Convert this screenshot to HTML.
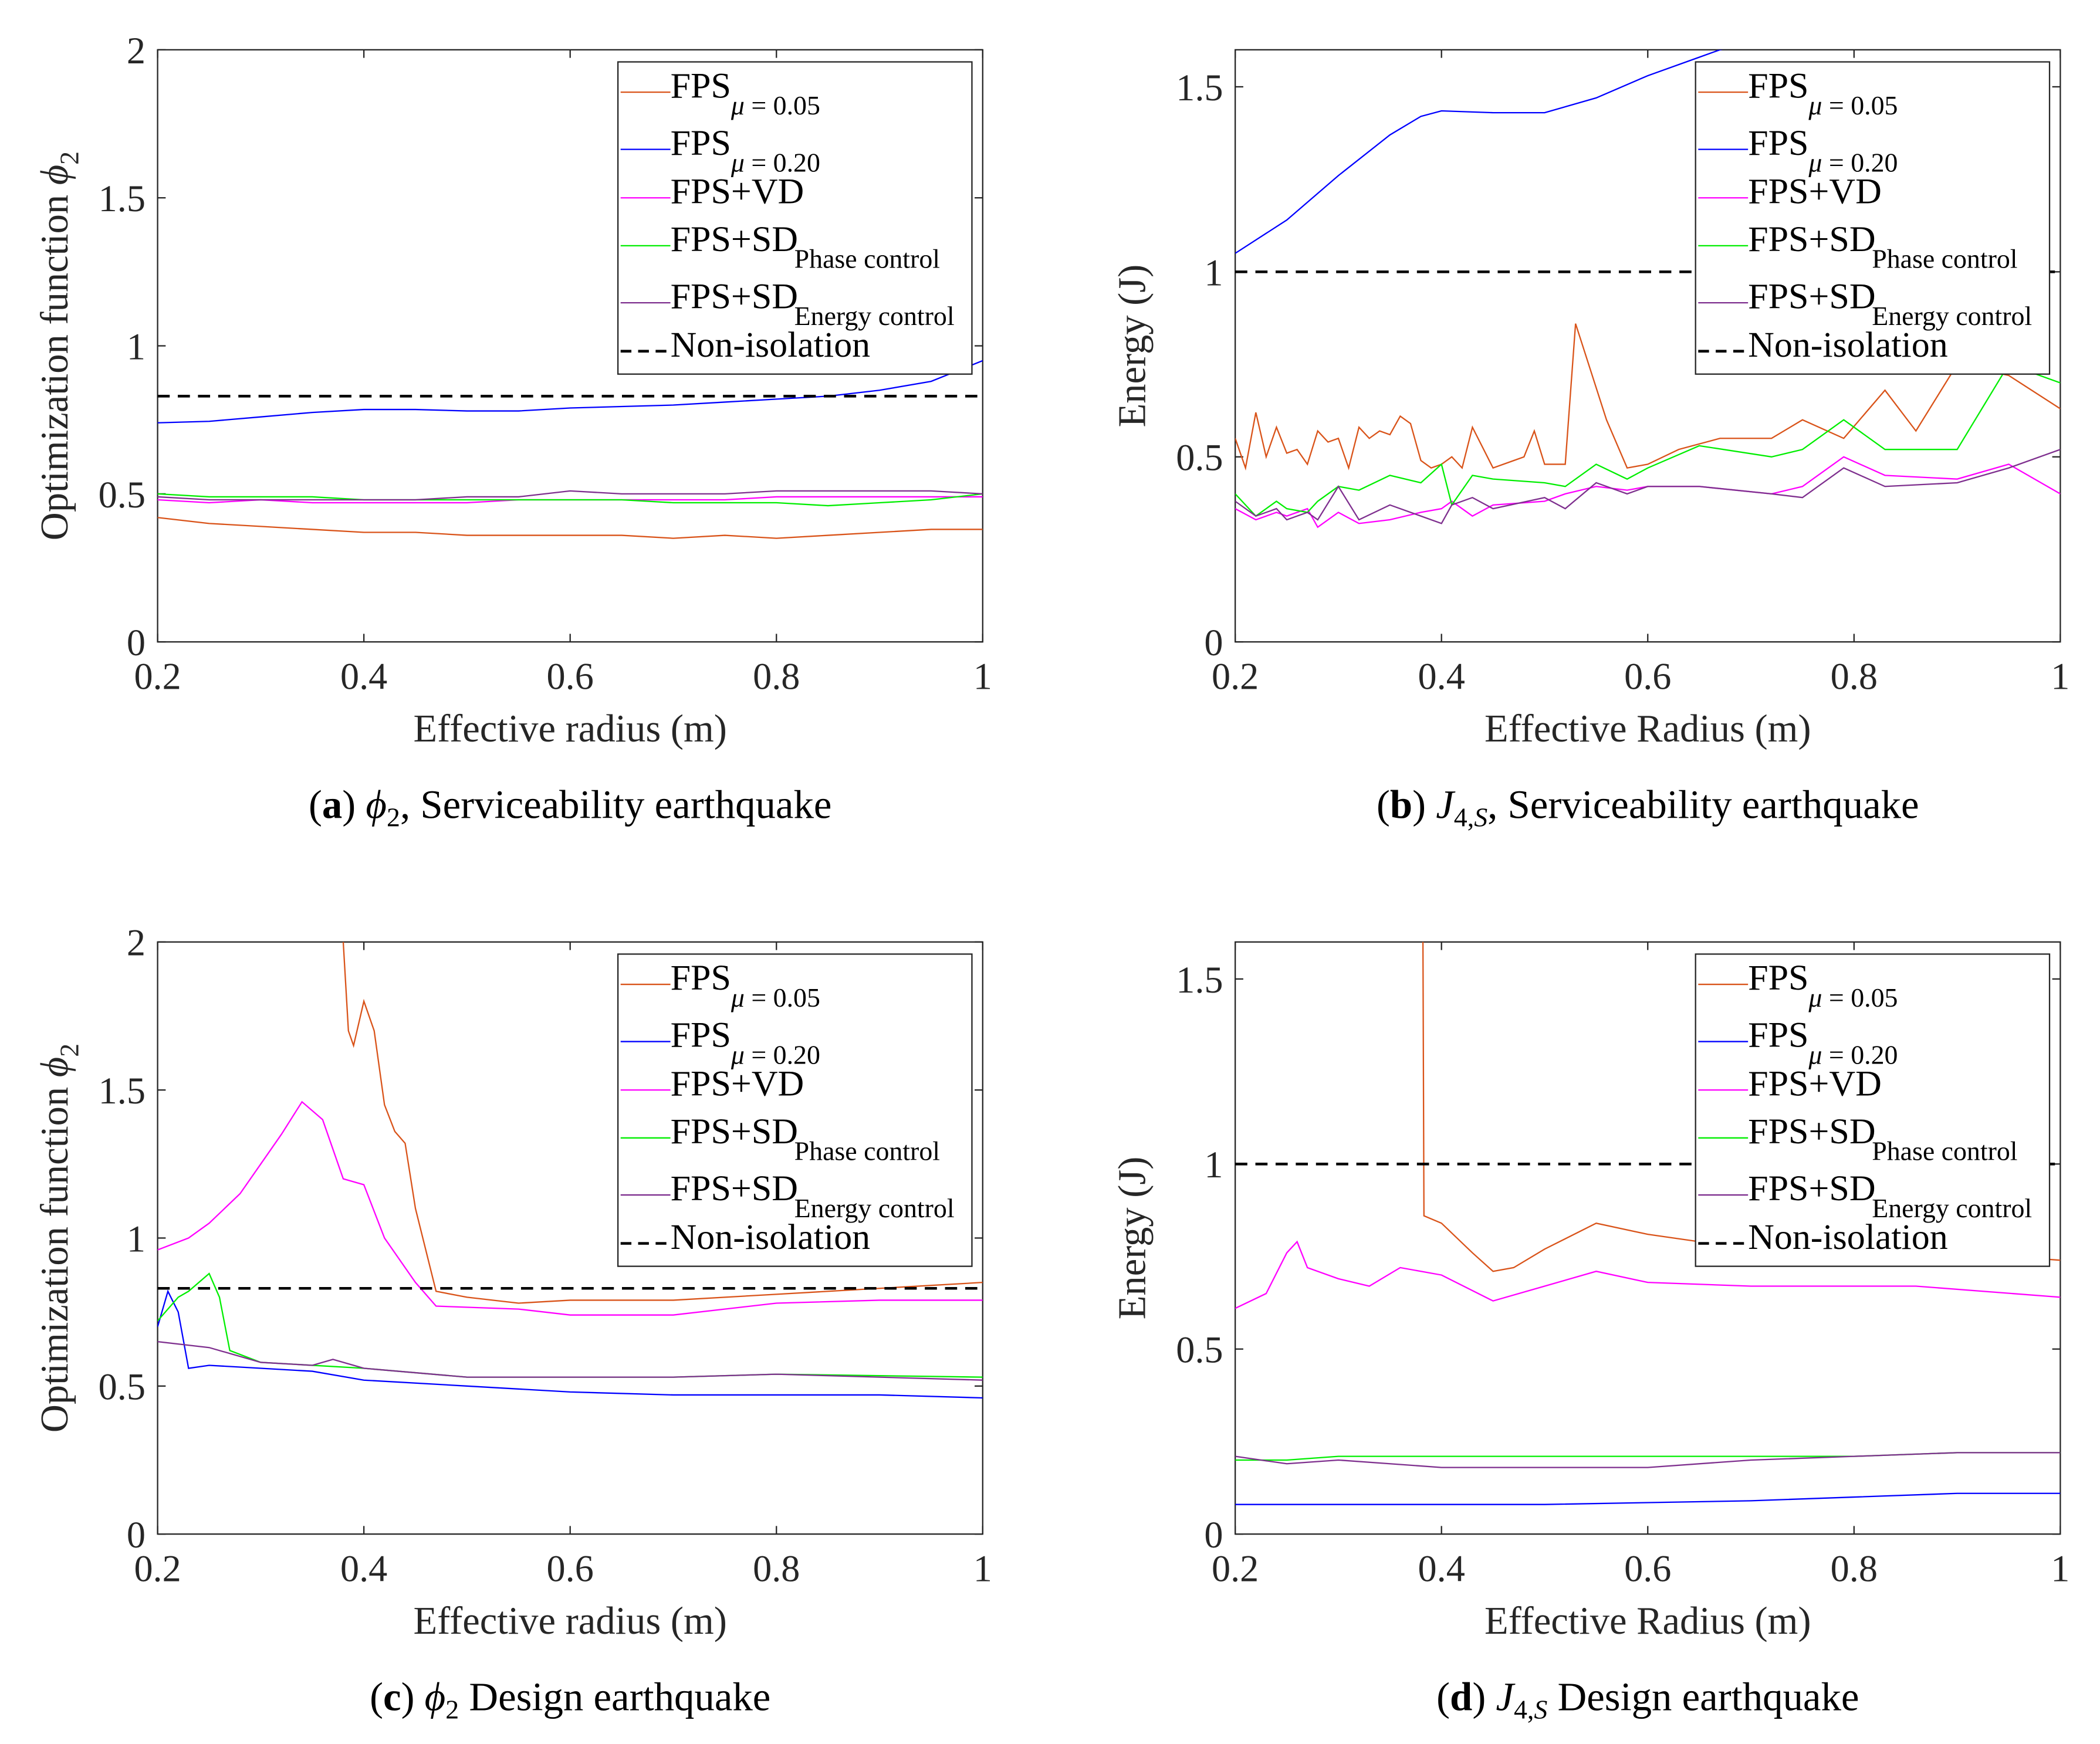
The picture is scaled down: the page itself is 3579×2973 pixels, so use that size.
<!DOCTYPE html>
<html><head><meta charset="utf-8"><style>
html,body{margin:0;padding:0;background:#fff}
svg{display:block}
svg text{font-family:"Liberation Serif","Times New Roman",Times,"DejaVu Serif",serif}
</style></head><body>
<svg id="fig" width="3579" height="2973" viewBox="0 0 1560 1296" xmlns="http://www.w3.org/2000/svg" style="font-family:'Liberation Serif','Times New Roman',Times,'DejaVu Serif',serif"></svg>
<script>
// ---- data ----
const xTicks=[0.2,0.4,0.6,0.8,1];
const xTickLabels=["0.2","0.4","0.6","0.8","1"];
const phiTicks=[0,0.5,1,1.5,2];
const phiTickLabels=["0","0.5","1","1.5","2"];
const eTicks=[0,0.5,1,1.5];
const eTickLabels=["0","0.5","1","1.5"];
const seriesNames=["FPS μ=0.05","FPS μ=0.20","FPS+VD","FPS+SD Phase control","FPS+SD Energy control","Non-isolation"];
const seriesColors=["#d95319","#0000ff","#ff00ff","#00ee00","#7e2f8e"];

// panel a
const aX=[0.2,0.25,0.3,0.35,0.4,0.45,0.5,0.55,0.6,0.65,0.7,0.75,0.8,0.85,0.9,0.95,1];
const aFps05=[0.42,0.40,0.39,0.38,0.37,0.37,0.36,0.36,0.36,0.36,0.35,0.36,0.35,0.36,0.37,0.38,0.38];
const aFps20=[0.74,0.745,0.76,0.775,0.785,0.785,0.78,0.78,0.79,0.795,0.80,0.81,0.82,0.83,0.85,0.88,0.95];
const aVD=[0.48,0.47,0.48,0.47,0.47,0.47,0.47,0.48,0.48,0.48,0.48,0.48,0.49,0.49,0.49,0.49,0.49];
const aPhase=[0.50,0.49,0.49,0.49,0.48,0.48,0.48,0.48,0.48,0.48,0.47,0.47,0.47,0.46,0.47,0.48,0.50];
const aEnergy=[0.49,0.48,0.48,0.48,0.48,0.48,0.49,0.49,0.51,0.50,0.50,0.50,0.51,0.51,0.51,0.51,0.50];
const aNon=0.83;

// panel b
const bX05=[0.2,0.21,0.22,0.23,0.24,0.25,0.26,0.27,0.28,0.29,0.3,0.31,0.32,0.33,0.34,0.35,0.36,0.37,0.38,0.39,0.4,0.41,0.42,0.43,0.45,0.47,0.48,0.49,0.5,0.52,0.53,0.56,0.58,0.6,0.63,0.67,0.72,0.75,0.79,0.83,0.86,0.9,0.95,1];
const bFps05=[0.55,0.47,0.62,0.50,0.58,0.51,0.52,0.48,0.57,0.54,0.55,0.47,0.58,0.55,0.57,0.56,0.61,0.59,0.49,0.47,0.48,0.50,0.47,0.58,0.47,0.49,0.50,0.57,0.48,0.48,0.86,0.60,0.47,0.48,0.52,0.55,0.55,0.60,0.55,0.68,0.57,0.75,0.72,0.63];
const bX20=[0.2,0.25,0.3,0.35,0.38,0.4,0.45,0.5,0.55,0.6,0.65,0.67,0.7];
const bFps20=[1.05,1.14,1.26,1.37,1.42,1.435,1.43,1.43,1.47,1.53,1.58,1.60,1.62];
const bXo=[0.2,0.22,0.24,0.25,0.27,0.28,0.3,0.32,0.35,0.38,0.4,0.41,0.43,0.45,0.5,0.52,0.55,0.58,0.6,0.65,0.72,0.75,0.79,0.83,0.9,0.95,1];
const bVD=[0.36,0.33,0.35,0.34,0.36,0.31,0.35,0.32,0.33,0.35,0.36,0.38,0.34,0.37,0.38,0.40,0.42,0.41,0.42,0.42,0.40,0.42,0.50,0.45,0.44,0.48,0.40];
const bPhase=[0.40,0.34,0.38,0.36,0.35,0.38,0.42,0.41,0.45,0.43,0.48,0.37,0.45,0.44,0.43,0.42,0.48,0.44,0.47,0.53,0.50,0.52,0.60,0.52,0.52,0.75,0.70];
const bEnergy=[0.38,0.34,0.36,0.33,0.35,0.33,0.42,0.33,0.37,0.34,0.32,0.37,0.39,0.36,0.39,0.36,0.43,0.40,0.42,0.42,0.40,0.39,0.47,0.42,0.43,0.47,0.52];
const bNon=1.0;

// panel c
const cX05=[0.38,0.385,0.39,0.40,0.41,0.42,0.43,0.44,0.45,0.47,0.5,0.55,0.6,0.7,0.8,0.9,1];
const cFps05=[2.0,1.70,1.65,1.80,1.70,1.45,1.36,1.32,1.10,0.82,0.80,0.78,0.79,0.79,0.81,0.83,0.85];
const cX20=[0.2,0.21,0.22,0.23,0.25,0.3,0.35,0.4,0.5,0.6,0.7,0.8,0.9,1];
const cFps20=[0.70,0.82,0.75,0.56,0.57,0.56,0.55,0.52,0.50,0.48,0.47,0.47,0.47,0.46];
const cXvd=[0.2,0.23,0.25,0.28,0.3,0.32,0.34,0.36,0.38,0.4,0.42,0.45,0.47,0.55,0.6,0.7,0.8,0.9,1];
const cVD=[0.96,1.0,1.05,1.15,1.25,1.35,1.46,1.40,1.20,1.18,1.0,0.85,0.77,0.76,0.74,0.74,0.78,0.79,0.79];
const cXp=[0.2,0.22,0.23,0.25,0.26,0.27,0.3,0.4,0.5,0.7,0.8,1];
const cPhase=[0.72,0.80,0.82,0.88,0.80,0.62,0.58,0.56,0.53,0.53,0.54,0.53];
const cXe=[0.2,0.25,0.3,0.35,0.37,0.4,0.5,0.7,0.8,1];
const cEnergy=[0.65,0.63,0.58,0.57,0.59,0.56,0.53,0.53,0.54,0.52];
const cNon=0.83;

// panel d
const dX05=[0.382,0.383,0.4,0.43,0.45,0.47,0.5,0.55,0.6,0.65,0.7,0.8,0.9,1];
const dFps05=[1.62,0.86,0.84,0.76,0.71,0.72,0.77,0.84,0.81,0.79,0.79,0.78,0.76,0.74];
const dXvd=[0.2,0.23,0.25,0.26,0.27,0.3,0.33,0.36,0.4,0.45,0.5,0.55,0.6,0.7,0.86,1];
const dVD=[0.61,0.65,0.76,0.79,0.72,0.69,0.67,0.72,0.70,0.63,0.67,0.71,0.68,0.67,0.67,0.64];
const dX=[0.2,0.25,0.3,0.35,0.4,0.5,0.6,0.7,0.8,0.9,1];
const dFps20=[0.08,0.08,0.08,0.08,0.08,0.08,0.085,0.09,0.10,0.11,0.11];
const dPhase=[0.20,0.20,0.21,0.21,0.21,0.21,0.21,0.21,0.21,0.22,0.22];
const dEnergy=[0.21,0.19,0.20,0.19,0.18,0.18,0.18,0.20,0.21,0.22,0.22];
const dNon=1.0;

// ---- drawing ----
const NS="http://www.w3.org/2000/svg";
const FONT="font-family:'Liberation Serif','Times New Roman',Times,'DejaVu Serif',serif";
const fig=document.getElementById('fig');
function el(tag,attrs,parent){const e=document.createElementNS(NS,tag);for(const k in attrs)e.setAttribute(k,attrs[k]);if(tag==='text')e.setAttribute('style',FONT);(parent||fig).appendChild(e);return e;}

function panel(id,x0,y0,ymax,yT,yTL,ylabel,xlabel,series,non,caption){
  const W=613,H=440;
  const g=el('g',{});
  
  
  const sx=v=>x0+(v-0.2)/0.8*W;
  const sy=v=>y0+H-v/ymax*H;
  const clipId='clip'+id;
  const cp=el('clipPath',{id:clipId},g);el('rect',{x:x0,y:y0,width:W,height:H},cp);
  el('rect',{x:x0,y:y0,width:W,height:H,fill:'#fff',stroke:'#262626','stroke-width':1},g);
  xTicks.forEach((t,i)=>{
    el('line',{x1:sx(t),x2:sx(t),y1:y0+H,y2:y0+H-6,stroke:'#262626','stroke-width':1},g);
    el('line',{x1:sx(t),x2:sx(t),y1:y0,y2:y0+6,stroke:'#262626','stroke-width':1},g);
    const tx=el('text',{x:sx(t),y:y0+H+35,'text-anchor':'middle','font-size':28,fill:'#262626'},g);tx.textContent=xTickLabels[i];
    
    
  });
  yT.forEach((t,i)=>{
    el('line',{x1:x0,x2:x0+6,y1:sy(t),y2:sy(t),stroke:'#262626','stroke-width':1},g);
    el('line',{x1:x0+W,x2:x0+W-6,y1:sy(t),y2:sy(t),stroke:'#262626','stroke-width':1},g);
    const tx=el('text',{x:x0-9,y:sy(t)+10,'text-anchor':'end','font-size':28,fill:'#262626'},g);tx.textContent=yTL[i];
    
    
  });
  const pg=el('g',{'clip-path':'url(#'+clipId+')'},g);
  series.forEach((s,i)=>{
    const pts=s.x.map((xv,j)=>sx(xv).toFixed(2)+','+sy(s.y[j]).toFixed(2)).join(' ');
    const p=el('polyline',{points:pts,fill:'none',stroke:s.c,'stroke-width':1},pg);
    
    
  });
  const nl=el('line',{x1:x0,x2:x0+W,y1:sy(non),y2:sy(non),stroke:'#000','stroke-width':2,'stroke-dasharray':'9,6'},pg);
  
  
  const xl=el('text',{x:x0+W/2,y:y0+H+74,'text-anchor':'middle','font-size':29,fill:'#262626'},g);xl.textContent=xlabel;
  
  
  const yl=el('text',{x:0,y:0,'text-anchor':'middle','font-size':29,fill:'#262626',transform:`translate(${x0-67},${y0+H/2}) rotate(-90)`},g);
  if(ylabel==='phi'){yl.textContent='Optimization function ';const t=el('tspan',{'font-style':'italic'},yl);t.textContent='ϕ';const s=el('tspan',{'font-size':20,dy:8},yl);s.textContent='2';}
  else yl.textContent=ylabel;
  
  
  // legend
  const lx=x0+342,ly=y0+9;
  const lg=el('g',{},g);
  
  
  el('rect',{x:lx,y:ly,width:263,height:232,fill:'#fff',stroke:'#262626','stroke-width':1},lg);
  const rows=[[22.5,'FPS','μ = 0.05',true],[65,'FPS','μ = 0.20',true],[101,'FPS+VD','',false],[136.6,'FPS+SD','Phase control',false],[179,'FPS+SD','Energy control',false],[215,'Non-isolation','',false]];
  rows.forEach((r,i)=>{
    const yy=ly+r[0];
    if(i<5) el('line',{x1:lx+2,x2:lx+39,y1:yy,y2:yy,stroke:series[i].c,'stroke-width':1},lg);
    else el('line',{x1:lx+2,x2:lx+39,y1:yy,y2:yy,stroke:'#000','stroke-width':2,'stroke-dasharray':'8,5'},lg);
    const t=el('text',{x:lx+39,y:yy+4,'font-size':27,fill:'#000'},lg);t.textContent=r[1];
    
    
    if(r[2]){
      const st=el('text',{x:lx+(r[3]?84:131),y:yy+16.5,'font-size':20,fill:'#000'},lg);
      if(r[3]){const m=el('tspan',{'font-style':'italic'},st);m.textContent='μ';const rest=el('tspan',{},st);rest.textContent=r[2].slice(1);}
      else st.textContent=r[2];
    }
  });
  const cap=el('text',{x:x0+W/2,y:y0+H+131,'text-anchor':'middle','font-size':30,fill:'#000'},g);
  cap.innerHTML=caption;
  
  
}

panel('a',117,37,2,phiTicks,phiTickLabels,'phi','Effective radius (m)',[
  {x:aX,y:aFps05,c:seriesColors[0]},{x:aX,y:aFps20,c:seriesColors[1]},{x:aX,y:aVD,c:seriesColors[2]},{x:aX,y:aPhase,c:seriesColors[3]},{x:aX,y:aEnergy,c:seriesColors[4]}],aNon,
  '(<tspan font-weight="bold">a</tspan>) <tspan font-style="italic">ϕ</tspan><tspan font-size="20" dy="6">2</tspan><tspan dy="-6">, Serviceability earthquake</tspan>');
panel('b',917.6,37,1.6,eTicks,eTickLabels,'Energy (J)','Effective Radius (m)',[
  {x:bX05,y:bFps05,c:seriesColors[0]},{x:bX20,y:bFps20,c:seriesColors[1]},{x:bXo,y:bVD,c:seriesColors[2]},{x:bXo,y:bPhase,c:seriesColors[3]},{x:bXo,y:bEnergy,c:seriesColors[4]}],bNon,
  '(<tspan font-weight="bold">b</tspan>) <tspan font-style="italic">J</tspan><tspan font-size="20" dy="6">4,<tspan font-style="italic">S</tspan></tspan><tspan dy="-6">, Serviceability earthquake</tspan>');
panel('c',117,700,2,phiTicks,phiTickLabels,'phi','Effective radius (m)',[
  {x:cX05,y:cFps05,c:seriesColors[0]},{x:cX20,y:cFps20,c:seriesColors[1]},{x:cXvd,y:cVD,c:seriesColors[2]},{x:cXp,y:cPhase,c:seriesColors[3]},{x:cXe,y:cEnergy,c:seriesColors[4]}],cNon,
  '(<tspan font-weight="bold">c</tspan>) <tspan font-style="italic">ϕ</tspan><tspan font-size="20" dy="6">2</tspan><tspan dy="-6"> Design earthquake</tspan>');
panel('d',917.6,700,1.6,eTicks,eTickLabels,'Energy (J)','Effective Radius (m)',[
  {x:dX05,y:dFps05,c:seriesColors[0]},{x:dX,y:dFps20,c:seriesColors[1]},{x:dXvd,y:dVD,c:seriesColors[2]},{x:dX,y:dPhase,c:seriesColors[3]},{x:dX,y:dEnergy,c:seriesColors[4]}],dNon,
  '(<tspan font-weight="bold">d</tspan>) <tspan font-style="italic">J</tspan><tspan font-size="20" dy="6">4,<tspan font-style="italic">S</tspan></tspan><tspan dy="-6"> Design earthquake</tspan>');
</script>
</body></html>
